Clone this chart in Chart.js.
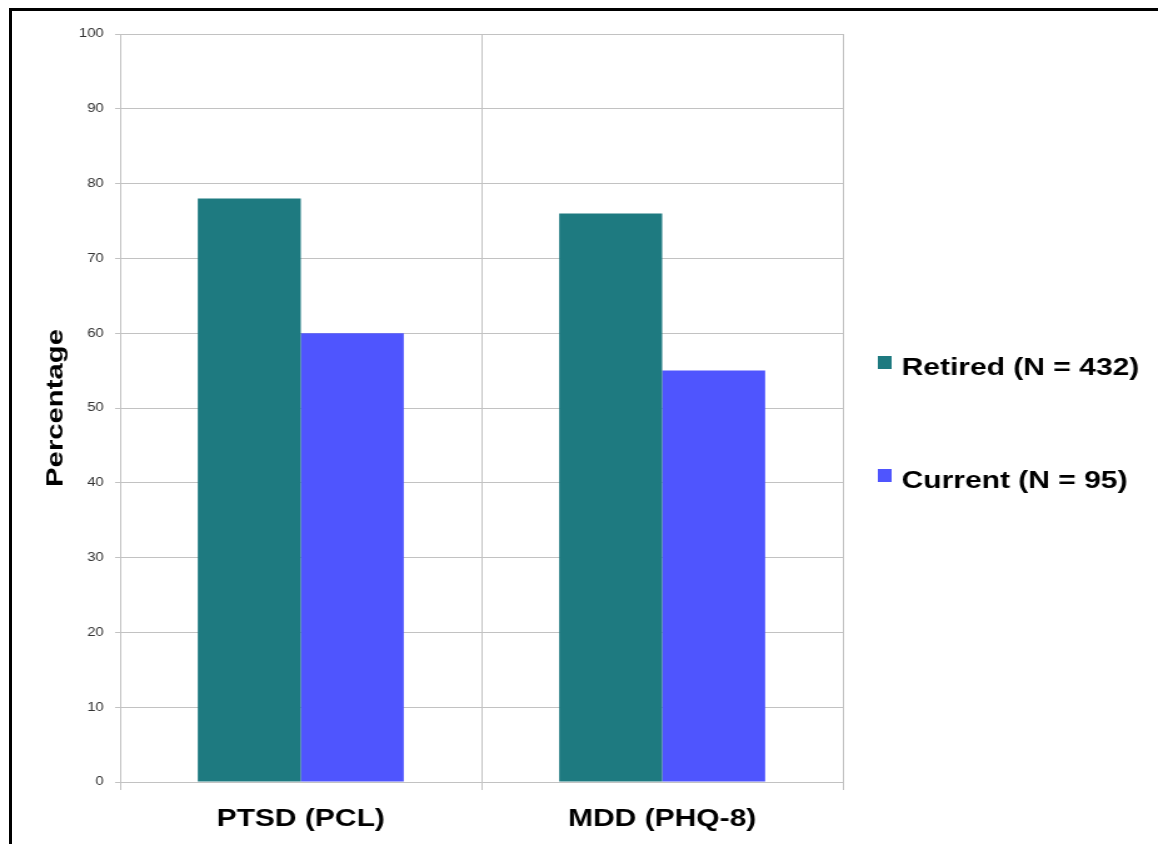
<!DOCTYPE html>
<html>
<head>
<meta charset="utf-8">
<title>Percentage screening positive: retired vs current</title>
<script src="https://cdn.jsdelivr.net/npm/chart.js@4/dist/chart.umd.min.js"></script>
<style>
  html, body { margin: 0; padding: 0; background: #fff; overflow: hidden; width: 1158px; height: 844px; }
  /* the chart is laid out on a narrower canvas and stretched horizontally */
  #stage { position: absolute; left: 0; top: 0; width: 926px; height: 844px; transform: scaleX(1.2505); transform-origin: 0 0; }
  #frame { position: absolute; left: 9px; top: 8px; width: 1300px; height: 1000px; border: 3px solid #000; box-sizing: border-box; pointer-events: none; }
</style>
</head>
<body>
<div id="stage"><canvas id="chart" width="926" height="844"></canvas></div>
<div id="frame"></div>
<script>
// Categories and series
const categories = ['PTSD (PCL)', 'MDD (PHQ-8)'];
const seriesNames = ['Retired (N = 432)', 'Current (N = 95)'];
const retiredValues = [78, 76];
const currentValues = [60, 55];
const yTickValues = [0, 10, 20, 30, 40, 50, 60, 70, 80, 90, 100];
const yAxisTitle = 'Percentage';
const seriesColors = ['#1e7a80', '#4f55fe'];

const gridGray = '#c2c2c2';
const labelFamily = '"Liberation Sans", Arial, Helvetica, sans-serif';

// Legend drawn to the right of the plot, one widely spaced row per series
const sideLegend = {
  id: 'sideLegend',
  afterDraw(chart, args, opts) {
    const { ctx, chartArea } = chart;
    ctx.save();
    ctx.font = opts.font;
    ctx.textAlign = 'left';
    ctx.textBaseline = 'alphabetic';
    chart.data.datasets.forEach((ds, i) => {
      const baseline = chartArea.top + opts.baselines[i];
      ctx.fillStyle = ds.backgroundColor;
      ctx.fillRect(chartArea.right + opts.boxGap, baseline - opts.boxRaise, opts.boxWidth, opts.boxHeight);
      ctx.fillStyle = opts.color;
      ctx.fillText(ds.label, chartArea.right + opts.textGap, baseline);
    });
    ctx.restore();
  }
};

// Rotated y-axis title, widened along its reading direction like the other labels
const sideTitle = {
  id: 'sideTitle',
  afterDraw(chart, args, opts) {
    const { ctx, chartArea } = chart;
    ctx.save();
    ctx.translate(opts.baselineX, (chartArea.top + chartArea.bottom) / 2);
    ctx.rotate(-Math.PI / 2);
    ctx.scale(opts.lengthScale, opts.thicknessScale);
    ctx.font = opts.font;
    ctx.fillStyle = opts.color;
    ctx.textAlign = 'center';
    ctx.textBaseline = 'alphabetic';
    ctx.fillText(opts.text, 0, 0);
    ctx.restore();
  }
};

new Chart(document.getElementById('chart'), {
  type: 'bar',
  data: {
    labels: categories,
    datasets: [
      { label: seriesNames[0], data: retiredValues, backgroundColor: seriesColors[0] },
      { label: seriesNames[1], data: currentValues, backgroundColor: seriesColors[1] }
    ]
  },
  plugins: [sideLegend, sideTitle],
  options: {
    responsive: false,
    devicePixelRatio: 1,
    animation: false,
    layout: { padding: { left: 32, right: 252, top: 34, bottom: 0 } },
    datasets: { bar: { categoryPercentage: 0.57, barPercentage: 1.0 } },
    plugins: {
      legend: { display: false },
      tooltip: { enabled: false },
      sideLegend: {
        font: 'bold 24px ' + labelFamily,
        color: '#000',
        baselines: [341, 454],
        boxGap: 28,
        textGap: 47,
        boxWidth: 11,
        boxHeight: 13,
        boxRaise: 19
      },
      sideTitle: {
        text: yAxisTitle,
        font: 'bold 24px ' + labelFamily,
        color: '#000',
        baselineX: 49.6,
        lengthScale: 1.22,
        thicknessScale: 0.8
      }
    },
    scales: {
      x: {
        grid: { offset: true, color: gridGray, lineWidth: 1, tickLength: 8, drawTicks: true },
        border: { display: true, color: gridGray },
        ticks: { color: '#000', padding: 15, font: { family: labelFamily, size: 24, weight: 'bold' } },
        afterFit(scale) { scale.height = 62; }
      },
      y: {
        min: 0,
        max: 100,
        afterBuildTicks(scale) { scale.ticks = yTickValues.map(v => ({ value: v })); },
        grid: { color: gridGray, lineWidth: 1, tickLength: 4, drawTicks: true },
        border: { display: true, color: gridGray },
        ticks: { color: '#333', padding: 9, font: { family: labelFamily, size: 12 } },
        title: { display: false, text: yAxisTitle },
        afterFit(scale) { scale.width = 64; }
      }
    }
  }
});
</script>
</body>
</html>
